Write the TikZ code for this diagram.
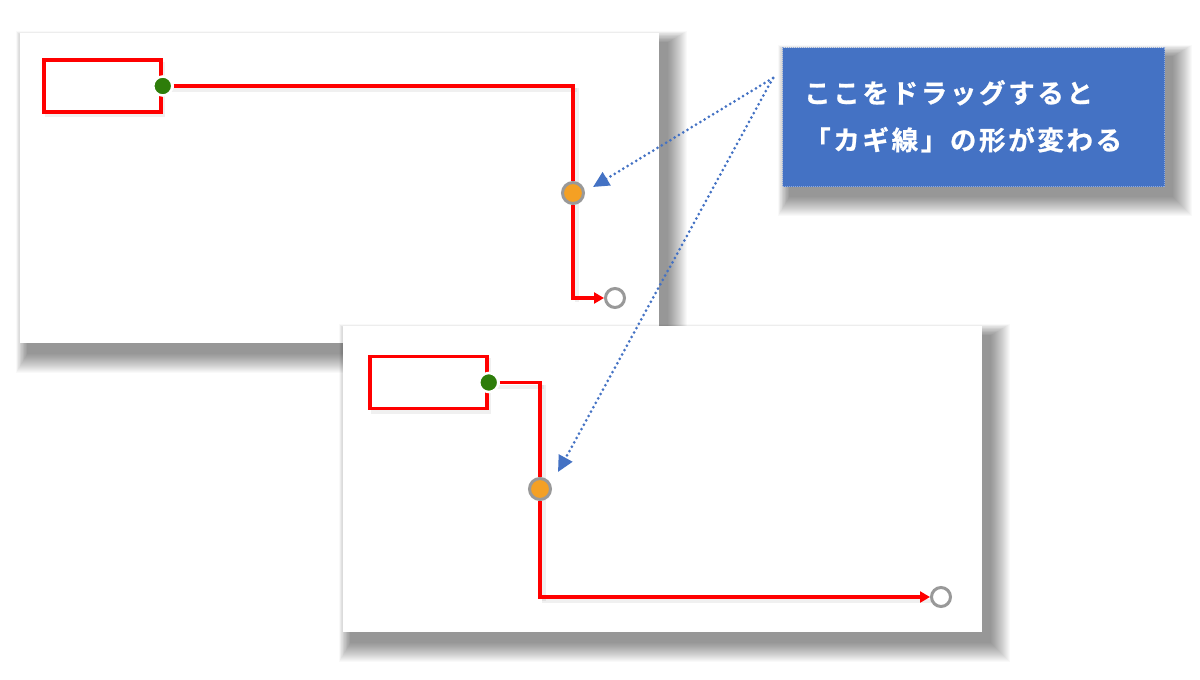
\documentclass[tikz,border=0pt]{standalone}
\usepackage{fontspec}
\newfontfamily\jp{Noto Sans CJK JP}[UprightFont={* Bold},LetterSpace=10,FakeBold=0.8]
\usetikzlibrary{arrows.meta}
\definecolor{callblue}{HTML}{4472C4}
\definecolor{callborder}{HTML}{8FAADC}
\definecolor{dotorange}{HTML}{F4A024}
\definecolor{dotgreen}{HTML}{2E7D0A}
\definecolor{ringgray}{HTML}{999999}
\tikzset{
  panel/.style={fill=white,draw=none},
  redbox/.style={draw=red,line width=3.5pt,fill=white,minimum width=117pt,minimum height=52pt,inner sep=0pt},
  redline/.style={draw=red,line width=3.5pt},
  greendot/.style={circle,fill=dotgreen,draw=white,line width=2.5pt,minimum size=19pt,inner sep=0pt},
  orangedot/.style={circle,fill=dotorange,draw=ringgray,line width=3pt,minimum size=21pt,inner sep=0pt},
  enddot/.style={circle,fill=white,draw=ringgray,line width=3pt,minimum size=19pt,inner sep=0pt},
  hint/.style={callblue,line width=3pt,dash pattern=on 0pt off 5pt,line cap=round,
    -{Triangle[length=16pt,width=15pt,line cap=butt]}},
  calltext/.style={text=white,font=\jp\fontsize{26.5}{30}\selectfont,anchor=base west,inner sep=0pt},
  redtip/.style={-{Triangle[length=10pt,width=11pt]}}
}
% soft shadow: x1 y1 x2 y2 (pixel coords)
\newcommand{\mysoftshadow}[4]{%
  \foreach \k in {0,...,19}{%
    \pgfmathsetmacro{\s}{20-\k}%
    \fill[black,opacity=0.022] ({#1+8-\s*0.6},{#2+10-\s*0.6}) rectangle ({#3+8+\s},{#4+10+\s});%
  }%
}
\newcommand{\myedgeshadow}[4]{%
  \fill[black,opacity=0.06] ({#1+2},{#2+3}) rectangle ({#3+3},{#4+4});%
}
\begin{document}
\begin{tikzpicture}[x=1pt,y=-1pt]
\useasboundingbox (0,0) rectangle (1200,680);
\fill[white] (0,0) rectangle (1200,680);

% ---------- panel 1 ----------
\mysoftshadow{20}{33}{659}{343}
\fill[panel] (20,33) rectangle (659,343);

% ---------- panel 2 ----------
\mysoftshadow{343}{326}{982}{632}
\fill[panel] (343,326) rectangle (982,632);

% ---------- panel 1 content ----------
\begin{scope}
\myedgeshadow{43}{59}{162}{113}
\fill[black,opacity=0.06] (164,88) rectangle (577,92);
\fill[black,opacity=0.06] (575,88) rectangle (579,302);
\node[redbox] (b1) at (102.5,86) {};
\node[greendot] (g1) at (b1.east) {};
\node[orangedot] (o1) at (573,193) {};
\node[enddot] (e1) at (615,298) {};
\draw[redline] (g1) -| (o1);
\draw[redline,redtip] (o1) |- (e1);
\end{scope}

% ---------- panel 2 content ----------
\begin{scope}
\myedgeshadow{369}{355}{488}{410}
\fill[black,opacity=0.06] (490,385) rectangle (544,389);
\fill[black,opacity=0.06] (542,385) rectangle (546,601);
\fill[black,opacity=0.06] (542,599) rectangle (934,603);
\node[redbox] (b2) at (428.5,382.5) {};
\node[greendot] (g2) at (b2.east) {};
\node[orangedot] (o2) at (540,489) {};
\node[enddot] (e2) at (941,597) {};
\draw[redline] (g2) -| (o2);
\draw[redline,redtip] (o2) |- (e2);
\end{scope}

% ---------- callout ----------
\mysoftshadow{782}{47}{1164}{186}
\node[fill=callblue,draw=callborder,line width=1pt,dash pattern=on 1pt off 1pt,
      minimum width=382pt,minimum height=139pt,inner sep=0pt,anchor=north west] (call) at (782,47) {};
\node[calltext] (t1) at (804,103) {ここをドラッグすると};
\node[calltext] (t2) at (804,150) {「カギ線」の形が変わる};

% ---------- hint arrows ----------
\coordinate (src) at (773,78);
\coordinate (tip1) at (593,187);
\coordinate (tip2) at (558,472);
\draw[hint] (src) -- (tip1);
\draw[hint] (src) -- (tip2);
\end{tikzpicture}
\end{document}
